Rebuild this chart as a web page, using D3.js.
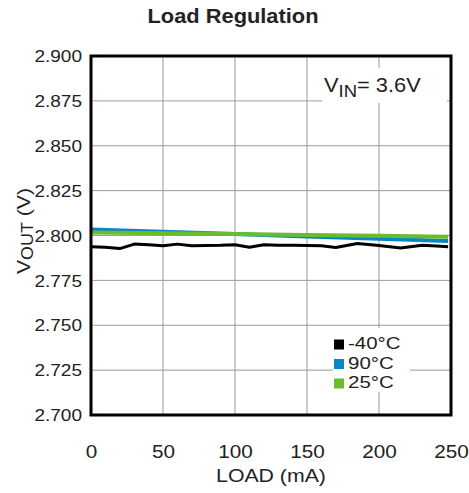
<!DOCTYPE html>
<html>
<head>
<meta charset="utf-8">
<script src="https://cdn.jsdelivr.net/npm/d3@7"></script>
<style>
  html, body { margin: 0; padding: 0; background: #fff; }
  svg { display: block; }
  text { font-family: "Liberation Sans", Arial, Helvetica, sans-serif; fill: #222; }
</style>
</head>
<body>
<svg id="chart" width="469" height="493"></svg>
<script>
// Load regulation measurements: output voltage vs. load current
const loadCold = [0, 10, 20, 30, 40, 50, 60, 70, 80, 90, 100, 110, 120, 130, 140, 150, 160, 170, 185, 200, 215, 230, 240, 248];
const voutCold = [2.7938, 2.7935, 2.7927, 2.7952, 2.7948, 2.7943, 2.7952, 2.7943, 2.7944, 2.7945, 2.7948, 2.7935, 2.7949, 2.7946, 2.7945, 2.7944, 2.7943, 2.7933, 2.7955, 2.7944, 2.7930, 2.7946, 2.7942, 2.7938];

const loadHot = [0, 50, 100, 150, 200, 248];
const voutHot = [2.8033, 2.8021, 2.8008, 2.7995, 2.7982, 2.7969];

const loadRoom = [0, 50, 100, 150, 200, 248];
const voutRoom = [2.8017, 2.8013, 2.8008, 2.8003, 2.7998, 2.7993];

const seriesNames = ["-40°C", "90°C", "25°C"];
const seriesColors = ["#000000", "#0a86c8", "#69bd2c"];

const xTicks = [0, 50, 100, 150, 200, 250];
const yTicks = [2.700, 2.725, 2.750, 2.775, 2.800, 2.825, 2.850, 2.875, 2.900];

const SX = 1.12; // horizontal glyph stretch

const svg = d3.select("#chart");
const x = d3.scaleLinear().domain([0, 250]).range([91, 451]);
const y = d3.scaleLinear().domain([2.7, 2.9]).range([415, 56]);

// grid
const grid = svg.append("g").attr("stroke", "#9a9a9a").attr("stroke-width", 1);
grid.selectAll("line.v").data(xTicks.slice(1, -1)).join("line")
  .attr("x1", d => x(d)).attr("x2", d => x(d))
  .attr("y1", y(2.9)).attr("y2", y(2.7));
grid.selectAll("line.h").data(yTicks.slice(1, -1)).join("line")
  .attr("x1", x(0)).attr("x2", x(250))
  .attr("y1", d => y(d)).attr("y2", d => y(d));

// white boxes behind the annotations
svg.append("rect").attr("x", 322).attr("y", 68).attr("width", 125).attr("height", 35).attr("fill", "#fff");
svg.append("rect").attr("x", 333).attr("y", 328).attr("width", 77).attr("height", 64).attr("fill", "#fff");

// series lines
const line = d3.line().x(d => x(d[0])).y(d => y(d[1]));
const series = [
  { pts: d3.zip(loadCold, voutCold), color: seriesColors[0], w: 3 },
  { pts: d3.zip(loadHot, voutHot), color: seriesColors[1], w: 4 },
  { pts: d3.zip(loadRoom, voutRoom), color: seriesColors[2], w: 4 }
];
svg.append("g").selectAll("path").data(series).join("path")
  .attr("d", d => line(d.pts))
  .attr("fill", "none")
  .attr("stroke", d => d.color)
  .attr("stroke-width", d => d.w)
  .attr("stroke-linejoin", "round")
  .attr("stroke-linecap", "butt");

// frame
svg.append("rect")
  .attr("x", x(0)).attr("y", y(2.9))
  .attr("width", x(250) - x(0)).attr("height", y(2.7) - y(2.9))
  .attr("fill", "none").attr("stroke", "#000").attr("stroke-width", 3);

// axes
const yAxis = svg.append("g").attr("transform", `translate(${x(0)},0)`)
  .call(d3.axisLeft(y).tickValues(yTicks).tickFormat(d3.format(".3f")).tickSize(0).tickPadding(0));
yAxis.select(".domain").remove();
yAxis.selectAll("text")
  .attr("x", 0).attr("dy", null)
  .attr("font-size", 17).attr("font-family", "Liberation Sans, Arial, sans-serif")
  .attr("fill", "#222")
  .attr("dominant-baseline", "central")
  .attr("transform", `translate(-9,0) scale(${SX},1)`);

const xAxis = svg.append("g").attr("transform", `translate(0,${y(2.7)})`)
  .call(d3.axisBottom(x).tickValues(xTicks).tickFormat(d3.format("d")).tickSize(0).tickPadding(0));
xAxis.select(".domain").remove();
xAxis.selectAll("text")
  .attr("y", 0).attr("dy", null)
  .attr("font-size", 18.5).attr("font-family", "Liberation Sans, Arial, sans-serif")
  .attr("fill", "#222")
  .attr("transform", `translate(0,43) scale(${SX},1)`);

// text helper with horizontal stretch
function label(x0, y0, size, anchor) {
  return svg.append("text")
    .attr("transform", `translate(${x0},${y0}) scale(${SX},1)`)
    .attr("font-size", size)
    .attr("text-anchor", anchor || "start");
}

label(233, 23, 19.5, "middle").attr("font-weight", "bold").attr("fill", "#000").text("Load Regulation");
label(271, 482, 19, "middle").text("LOAD (mA)");

// y axis title with subscript
const yt = svg.append("text")
  .attr("transform", `translate(30,231) rotate(-90) scale(${SX},1)`)
  .attr("text-anchor", "middle")
  .attr("font-size", 19);
yt.append("tspan").text("V");
yt.append("tspan").attr("font-size", 16).attr("dy", 3).text("OUT");
yt.append("tspan").attr("dy", -3).text(" (V)");

// input voltage annotation
const vin = label(324, 91.5, 19.5);
vin.append("tspan").text("V");
vin.append("tspan").attr("font-size", 16.5).attr("dy", 5).text("IN");
vin.append("tspan").attr("dy", -5).text("= 3.6V");

// legend
const lg = svg.append("g");
seriesNames.forEach((name, i) => {
  const yy = 349 + i * 19.5;
  lg.append("rect").attr("x", 334).attr("y", yy - 9.5).attr("width", 10).attr("height", 10)
    .attr("fill", seriesColors[i]);
  lg.append("text")
    .attr("transform", `translate(348,${yy}) scale(1.22,1)`)
    .attr("font-size", 16.8)
    .text(name);
});
</script>
</body>
</html>
